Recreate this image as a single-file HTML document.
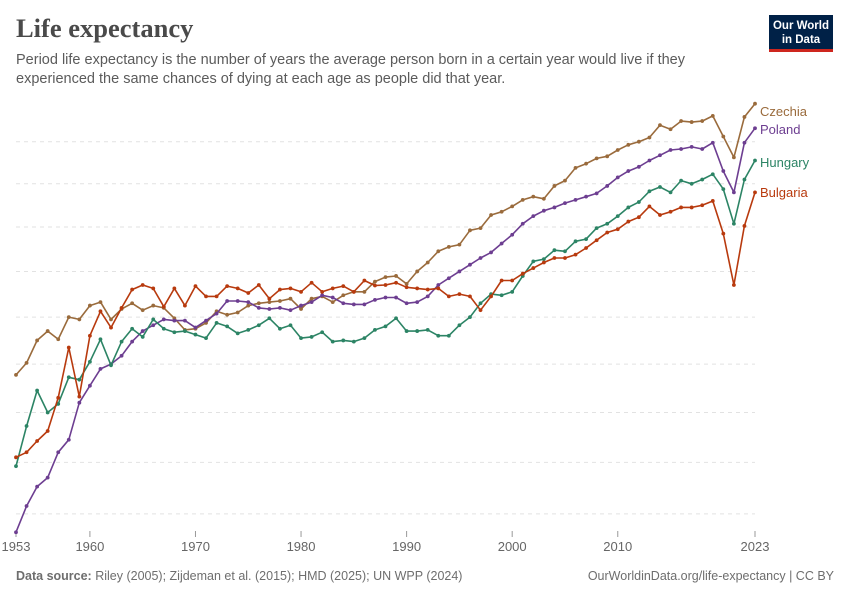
<!DOCTYPE html>
<html><head><meta charset="utf-8">
<style>
body{margin:0;background:#fff;width:850px;height:600px;overflow:hidden;font-family:"Liberation Sans",sans-serif;}
#title{position:absolute;left:16px;top:13px;font-family:"Liberation Serif",serif;font-size:26.5px;font-weight:bold;color:#4a4a4a;margin:0}
#sub{position:absolute;left:16px;top:51px;width:730px;font-size:14.5px;line-height:19px;color:#5b5b5b}
#logo{position:absolute;left:769px;top:15px;width:64px;height:37px;background:#002147;border-bottom:3px solid #ce261e;box-sizing:border-box;color:#fff;font-size:11.5px;font-weight:bold;text-align:center;line-height:14px;padding-top:4px}
.foot{position:absolute;top:569px;font-size:12.5px;color:#6e6e6e}
</style></head><body>
<h1 id="title">Life expectancy</h1>
<div id="sub">Period life expectancy is the number of years the average person born in a certain year would live if they experienced the same chances of dying at each age as people did that year.</div>
<div id="logo">Our World<br>in Data</div>
<svg id="chart" width="850" height="600" style="position:absolute;left:0;top:0"></svg>
<div class="foot" style="left:16px"><b>Data source:</b> Riley (2005); Zijdeman et al. (2015); HMD (2025); UN WPP (2024)</div>
<div class="foot" style="right:16px">OurWorldinData.org/life-expectancy | CC BY</div>
<script>
const startYear = 1953;
const gridValues = [62,64,66,68,70,72,74,76,78];
const xTicks = [1953,1960,1970,1980,1990,2000,2010,2023];
const czechia = [67.55,68.05,69.0,69.4,69.05,70.0,69.9,70.5,70.65,69.9,70.35,70.6,70.3,70.5,70.4,69.95,69.45,69.5,69.75,70.25,70.1,70.2,70.5,70.6,70.65,70.7,70.8,70.35,70.8,70.9,70.65,70.95,71.1,71.1,71.55,71.75,71.8,71.45,72.0,72.4,72.9,73.1,73.2,73.85,73.95,74.55,74.7,74.95,75.25,75.4,75.3,75.9,76.15,76.75,76.95,77.2,77.3,77.6,77.85,78.0,78.2,78.8,78.6,79.0,78.95,79.0,79.25,78.25,77.25,79.2,79.85];
const poland = [61.3,62.3,63.05,63.4,64.4,64.9,66.4,67.1,67.8,68.0,68.35,68.95,69.4,69.65,69.9,69.85,69.85,69.55,69.85,70.15,70.7,70.7,70.65,70.4,70.35,70.4,70.3,70.5,70.65,70.95,70.85,70.6,70.55,70.55,70.75,70.85,70.85,70.6,70.65,70.9,71.4,71.7,72.0,72.3,72.6,72.85,73.25,73.65,74.15,74.5,74.75,74.9,75.1,75.25,75.4,75.55,75.9,76.3,76.6,76.8,77.1,77.35,77.6,77.65,77.75,77.65,77.95,76.6,75.6,77.95,78.65];
const hungary = [63.85,65.45,66.9,66.0,66.35,67.45,67.35,68.1,69.05,67.95,68.95,69.5,69.15,69.9,69.5,69.35,69.4,69.25,69.1,69.75,69.6,69.3,69.45,69.65,69.95,69.5,69.65,69.1,69.15,69.35,68.95,69.0,68.95,69.1,69.45,69.6,69.95,69.4,69.4,69.45,69.2,69.2,69.65,70.0,70.6,71.0,70.95,71.1,71.8,72.45,72.55,72.95,72.9,73.35,73.45,73.95,74.15,74.5,74.9,75.15,75.65,75.85,75.6,76.15,76.0,76.2,76.45,75.75,74.15,76.2,77.1];
const bulgaria = [64.2,64.4,64.85,65.25,66.6,68.7,66.65,69.2,70.25,69.55,70.4,71.2,71.4,71.25,70.45,71.25,70.5,71.35,70.9,70.9,71.35,71.25,71.05,71.4,70.8,71.2,71.25,71.1,71.5,71.1,71.25,71.35,71.1,71.6,71.38,71.4,71.5,71.3,71.25,71.2,71.25,70.9,71.0,70.9,70.3,70.9,71.6,71.6,71.9,72.15,72.4,72.6,72.6,72.75,73.05,73.4,73.75,73.9,74.25,74.45,74.95,74.55,74.7,74.9,74.9,75.0,75.2,73.7,71.4,74.05,75.6];
const seriesNames = ["Czechia","Poland","Hungary","Bulgaria"];
const seriesColors = ["#9a6b3c","#6d3e91","#2c8465","#b83a0e"];
const labelY = [111,129,162,192];
const NS="http://www.w3.org/2000/svg";
const svg=document.getElementById('chart');
function xScale(yr){return 16+(yr-1953)*(739/70);}
function yScale(v){return 141.7-1621*Math.log(v/78);}
function mk(tag,attrs){const e=document.createElementNS(NS,tag);for(const k in attrs)e.setAttribute(k,attrs[k]);svg.appendChild(e);return e;}
gridValues.forEach(v=>{
  const l=mk('line',{x1:16,x2:755,y1:yScale(v),y2:yScale(v),stroke:'#e2e2e2','stroke-dasharray':'4,4','stroke-width':1});
  
  
});
xTicks.forEach(t=>{
  const x=xScale(t);
  const tk=mk('line',{x1:x,x2:x,y1:531,y2:537,stroke:'#999'});
  
  
  const tx=mk('text',{x:x,y:551,'text-anchor':'middle','font-size':13,fill:'#666','font-family':'Liberation Sans, sans-serif'});
  tx.textContent=t;
  
  
});
[czechia,poland,hungary,bulgaria].forEach((data,i)=>{
  const pts=data.map((v,j)=>xScale(startYear+j).toFixed(1)+','+yScale(v).toFixed(1)).join(' ');
  const pl=mk('polyline',{points:pts,fill:'none',stroke:seriesColors[i],'stroke-width':1.6,'stroke-linejoin':'round'});
  
  
  data.forEach((v,j)=>{
    const c=mk('circle',{cx:xScale(startYear+j),cy:yScale(v),r:1.9,fill:seriesColors[i]});
    
    
  });
  const lb=mk('text',{x:760,y:labelY[i]+5,'font-size':13,fill:seriesColors[i],'font-family':'Liberation Sans, sans-serif'});
  lb.textContent=seriesNames[i];
  
  
});
</script>
</body></html>
